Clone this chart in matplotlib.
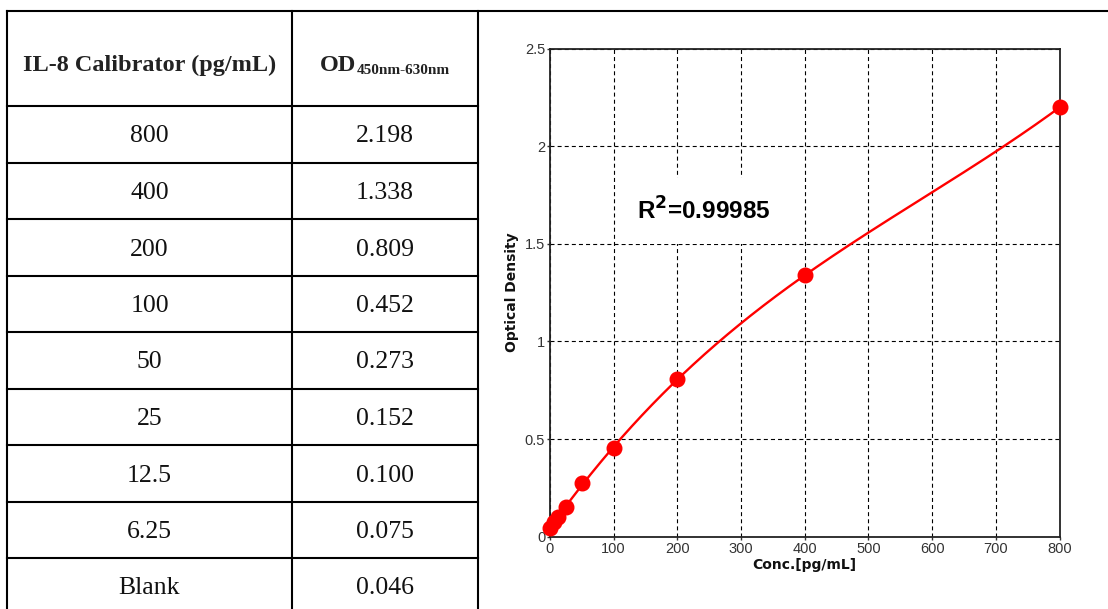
import numpy as np
import matplotlib
matplotlib.use("Agg")
import matplotlib.pyplot as plt
from matplotlib.lines import Line2D
from matplotlib.ticker import FuncFormatter

# ---------------- data ----------------
calibrator_labels = ["800", "400", "200", "100", "50", "25", "12.5", "6.25", "Blank"]
od_labels = ["2.198", "1.338", "0.809", "0.452", "0.273", "0.152", "0.100", "0.075", "0.046"]
conc = [800, 400, 200, 100, 50, 25, 12.5, 6.25, 0]
od = [2.198, 1.338, 0.809, 0.452, 0.273, 0.152, 0.100, 0.075, 0.046]
r2_text = "R$\\mathbf{^2}$=0.99985"
header_col1 = "IL-8 Calibrator (pg/mL)"
header_od = "OD"
header_sub = "450nm-630nm"
x_ticks = [0, 100, 200, 300, 400, 500, 600, 700, 800]
y_ticks = [0, 0.5, 1, 1.5, 2, 2.5]

W, H = 1108, 609
fig = plt.figure(figsize=(W / 100, H / 100), dpi=100)

# background overlay in pixel coordinates
bg = fig.add_axes([0, 0, 1, 1])
bg.set_xlim(0, W)
bg.set_ylim(H, 0)
bg.axis("off")

lw_tab = 1.5
x_left, x_mid, x_panel = 7, 292, 478
y_top, y_head = 11, 106
row_h = 56.5

def hline(y, x0, x1):
    bg.add_line(Line2D([x0, x1], [y, y], color="black", lw=lw_tab, solid_capstyle="projecting"))

def vline(x, y0, y1):
    bg.add_line(Line2D([x, x], [y0, y1], color="black", lw=lw_tab, solid_capstyle="projecting"))

hline(y_top, x_left, W)
for k in range(len(calibrator_labels)):
    hline(y_head + row_h * k, x_left, x_panel)
vline(x_left, y_top, H + 5)
vline(x_mid, y_top, H + 5)
vline(x_panel, y_top, H + 5)

serif = "Liberation Serif"
head_fs = 17.5
body_fs = 18.5
c1 = (x_left + x_mid) / 2
c2 = (x_mid + x_panel) / 2

bg.text(c1, 71, header_col1, fontsize=head_fs, fontweight="bold", family=serif,
        ha="center", va="baseline", color="#222222")

for k, (a, b) in enumerate(zip(calibrator_labels, od_labels)):
    yb = y_head + row_h * k + 36.5
    bg.text(c1, yb, a, fontsize=body_fs, family=serif, ha="center", va="baseline", color="#111111")
    bg.text(c2, yb, b, fontsize=body_fs, family=serif, ha="center", va="baseline", color="#111111")

# OD with subscript, centred in column 2
renderer = fig.canvas.get_renderer()
t_od = bg.text(0, 71, header_od, fontsize=head_fs, fontweight="bold", family=serif,
               ha="left", va="baseline", color="#222222")
t_sub = bg.text(0, 73.5, header_sub, fontsize=11, fontweight="bold", family=serif,
                ha="left", va="baseline", color="#222222")
w_od = t_od.get_window_extent(renderer).width
w_sub = t_sub.get_window_extent(renderer).width
start = c2 - (w_od + w_sub) / 2
t_od.set_x(start)
t_sub.set_x(start + w_od)

# ---------------- chart ----------------
ax_l, ax_r, ax_t, ax_b = 550, 1059.5, 48.5, 536.7
ax = fig.add_axes([ax_l / W, (H - ax_b) / H, (ax_r - ax_l) / W, (ax_b - ax_t) / H])
ax.set_xlim(0, 800)
ax.set_ylim(0, 2.5)
ax.set_xticks(x_ticks)
ax.set_yticks(y_ticks)
ax.yaxis.set_major_formatter(FuncFormatter(lambda v, p: ("%g" % v)))
ax.grid(True, color="black", lw=0.8, linestyle=(0, (3.6, 2.8)))
ax.set_axisbelow(True)
for s in ax.spines.values():
    s.set_linewidth(1.3)
    s.set_color("#222222")
ax.tick_params(length=2, width=1, pad=1.5, labelsize=10.5, colors="#333333")
for lab in ax.get_xticklabels() + ax.get_yticklabels():
    lab.set_family("Liberation Sans")

# fitted calibration curve from the data points
coef = np.polyfit(conc, od, 3)
xs = np.linspace(0, 800, 400)
ax.plot(xs, np.polyval(coef, xs), color="red", lw=1.7, zorder=3)
ax.plot(conc, od, "o", color="red", ms=10.5, zorder=4, clip_on=False)

ax.set_xlabel("Conc.[pg/mL]", fontsize=10, fontweight="bold", family="DejaVu Sans",
              labelpad=2, color="#111111")
ax.set_ylabel("Optical Density", fontsize=10, fontweight="bold", family="DejaVu Sans",
              labelpad=4, color="#111111")

ax.text(0.171, 0.667, r2_text, transform=ax.transAxes, fontsize=17.5, fontweight="bold",
        family="Liberation Sans", ha="left", va="center", zorder=5,
        bbox=dict(boxstyle="square,pad=0.8", fc="white", ec="none"))

fig.savefig("out.png", dpi=100)
